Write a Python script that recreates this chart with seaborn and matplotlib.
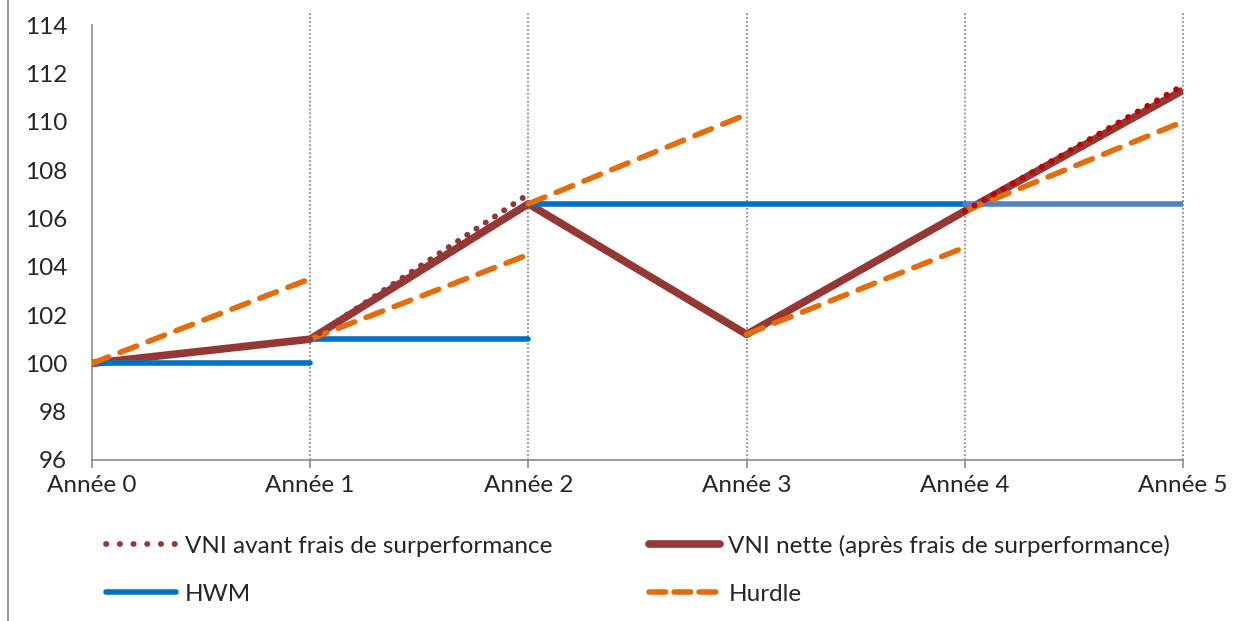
import numpy as np
import pandas as pd
import seaborn as sns
import matplotlib.pyplot as plt
from matplotlib.lines import Line2D

years = [0, 1, 2, 3, 4, 5]
year_labels = ['Année 0', 'Année 1', 'Année 2', 'Année 3', 'Année 4', 'Année 5']

# VNI nette (après frais)
vni_nette = [100, 101, 106.6, 101.2, 106.3, 111.3]

# VNI avant frais : segments where it departs from the net value
vni_avant_seg1_x = [1, 2]
vni_avant_seg1_y = [101, 107.0]
vni_avant_seg2_x = [4, 5]
vni_avant_seg2_y = [106.3, 111.5]

# HWM segments
hwm_seg_x = [[0, 1], [1, 2], [2, 4], [4, 5]]
hwm_seg_y = [[100, 100], [101, 101], [106.6, 106.6], [106.6, 106.6]]

# Hurdle : one segment per year
hurdle_start = [100, 101, 106.6, 101.2, 106.3]
hurdle_end = [103.5, 104.5, 110.3, 104.8, 110.0]

c_nette = '#953735'
c_avant1 = '#953735'
c_avant2 = '#C00000'
c_hwm = '#0070C0'
c_hwm_light = '#4F81BD'
c_hurdle = '#E46C0A'

sns.set_style('white')
plt.rcParams['font.family'] = ['Lato', 'DejaVu Sans']
fs = 17.5

fig = plt.figure(figsize=(12.48, 6.21), dpi=100)
ax = fig.add_axes([92 / 1248, 1 - 460 / 621, (1183 - 92) / 1248, (460 - 25) / 621])

# vertical dotted grid lines
for yr in years[1:]:
    ax.plot([yr, yr], [96, 114.55], color='#8c8c8c', lw=1.3, ls=(0, (1, 1.2)),
            clip_on=False, zorder=1)

sns.lineplot(x=years, y=vni_nette, ax=ax, color=c_nette, lw=5.5,
             solid_capstyle='butt', zorder=3)

for i, (sx, sy) in enumerate(zip(hwm_seg_x, hwm_seg_y)):
    col = c_hwm_light if i == 3 else c_hwm
    sns.lineplot(x=sx, y=sy, ax=ax, color=col, lw=4, solid_capstyle='round', zorder=4)

for i in range(len(hurdle_start)):
    sns.lineplot(x=[years[i], years[i + 1]], y=[hurdle_start[i], hurdle_end[i]], ax=ax,
                 color=c_hurdle, lw=4, ls=(0, (3.2, 2.2)), dash_capstyle='round', zorder=5)

sns.lineplot(x=vni_avant_seg1_x, y=vni_avant_seg1_y, ax=ax, color=c_avant1, lw=4.2,
             ls=(0, (0.05, 1.85)), dash_capstyle='round', zorder=6)
sns.lineplot(x=vni_avant_seg2_x, y=vni_avant_seg2_y, ax=ax, color=c_avant2, lw=4.2,
             ls=(0, (0.05, 1.85)), dash_capstyle='round', zorder=6)

ax.set_xlim(0, 5)
ax.set_ylim(96, 114)
ax.set_yticks(np.arange(96, 115, 2))
ax.set_xticks(years)
ax.set_xticklabels(year_labels)
ax.tick_params(axis='y', length=0, pad=18, labelsize=fs)
ax.tick_params(axis='x', length=6, width=1.2, color='#8c8c8c', direction='out',
               pad=5, labelsize=fs, bottom=True)
for s in ['top', 'right']:
    ax.spines[s].set_visible(False)
for s in ['left', 'bottom']:
    ax.spines[s].set_color('#8c8c8c')
    ax.spines[s].set_linewidth(1.2)
ax.set_xlabel('')
ax.set_ylabel('')

handles = [
    Line2D([], [], color=c_avant1, lw=4.2, ls=(0, (0.05, 2.3)), dash_capstyle='round'),
    Line2D([], [], color=c_hwm, lw=4, solid_capstyle='round'),
    Line2D([], [], color=c_nette, lw=5.5, solid_capstyle='round'),
    Line2D([], [], color=c_hurdle, lw=4, ls=(0, (3.0, 1.5)), dash_capstyle='round'),
]
labels = ['VNI avant frais de surperformance', 'HWM',
          'VNI nette (après frais de surperformance)', 'Hurdle']
fig.legend(handles, labels, ncol=2, loc='upper left', bbox_to_anchor=(96 / 1248, 1 - 525 / 621),
           frameon=False, fontsize=fs, handlelength=2.9, handletextpad=0.35,
           columnspacing=4.0, labelspacing=1.1, borderaxespad=0)

# outer frame left edge
fig.add_artist(Line2D([8 / 1248, 8 / 1248], [0, 1], color='#a0a0a0', lw=1.5))

fig.savefig('out.png', dpi=100)
